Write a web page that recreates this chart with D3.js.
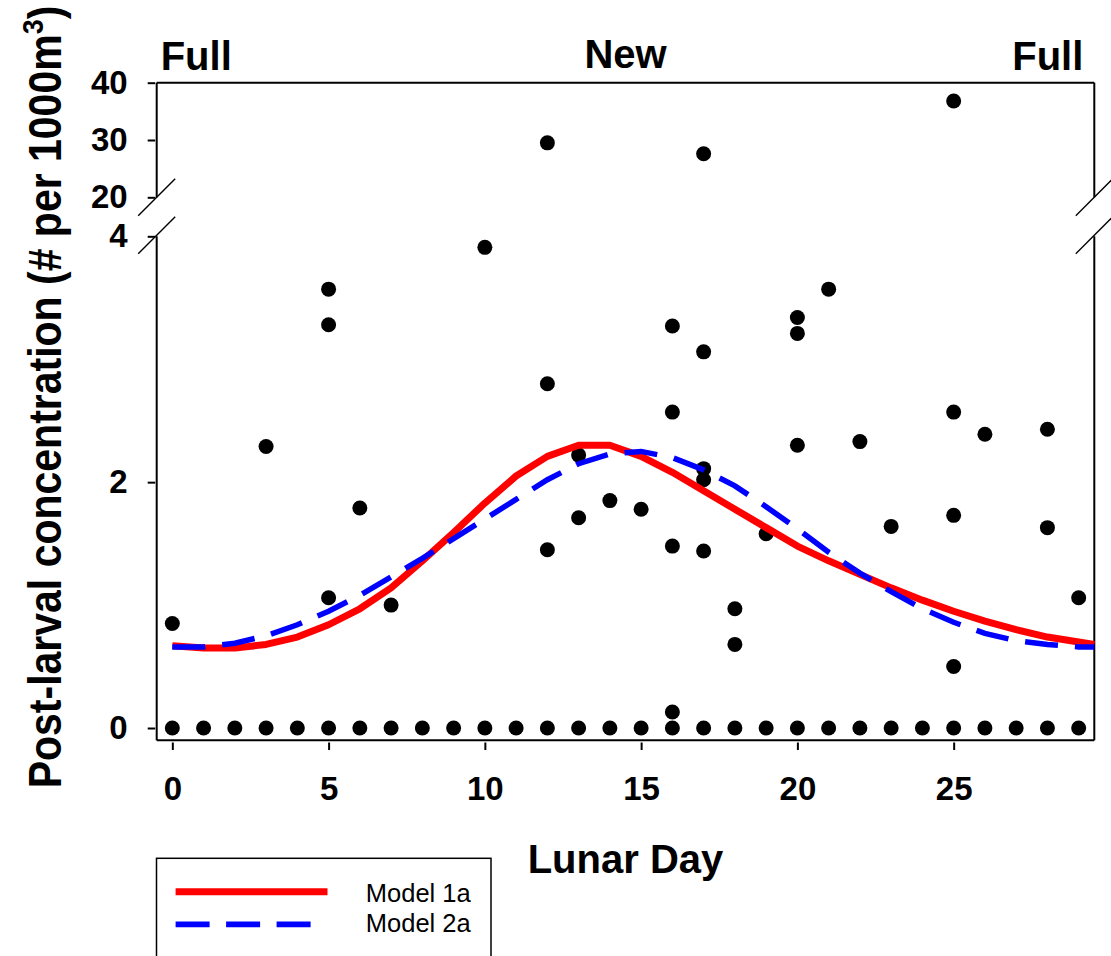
<!DOCTYPE html>
<html>
<head>
<meta charset="utf-8">
<script src="https://cdn.jsdelivr.net/npm/d3@7"></script>
<style>
  html, body { margin: 0; padding: 0; background: #fff; }
  svg { display: block; font-family: "Liberation Sans", Arial, Helvetica, sans-serif; }
</style>
</head>
<body>
<svg id="chart" width="1111" height="956"></svg>
<script>
// Nights sampled with no post-larvae caught (one zero per lunar day)
const zeroDays = [0,1,2,3,4,5,6,7,8,9,10,11,12,13,14,15,16,17,18,19,20,21,22,23,24,25,26,27,28,29];

// Non-zero catches: lunar day and concentration (# per 1000 m^3)
const sampleDay  = [0, 3, 5, 5, 5, 6, 7, 10, 12, 12, 12, 13, 13, 14, 15,
                    16, 16, 16, 16, 17, 17, 17, 17, 17, 18, 18, 19,
                    20, 20, 20, 21, 22, 23, 25, 25, 25, 25, 26, 28, 28, 29];
const sampleConc = [0.85, 2.29, 3.57, 3.28, 1.06, 1.79, 1.00, 3.91, 29.5, 2.80, 1.45, 2.22, 1.71, 1.85, 1.78,
                    3.27, 2.57, 1.48, 0.13, 27.6, 3.06, 2.11, 2.02, 1.44, 0.97, 0.68, 1.58,
                    3.34, 3.21, 2.30, 3.57, 2.33, 1.64, 36.8, 2.57, 1.73, 0.50, 2.39, 2.43, 1.63, 1.06];

// Fitted model curves over the lunar cycle
const curveDays = [0,1,2,3,4,5,6,7,8,9,10,11,12,13,14,15,16,17,18,19,20,21,22,23,24,25,26,27,28,29,29.5];
const model1a = [0.67,0.65,0.65,0.68,0.74,0.84,0.97,1.14,1.36,1.59,1.83,2.05,2.21,2.30,2.30,2.21,
                 2.08,1.93,1.78,1.63,1.48,1.36,1.25,1.14,1.04,0.95,0.87,0.80,0.74,0.70,0.68];
const model2a = [0.66,0.66,0.69,0.75,0.84,0.95,1.08,1.23,1.38,1.54,1.70,1.86,2.02,2.15,2.23,2.25,
                 2.20,2.10,1.97,1.80,1.62,1.43,1.26,1.11,0.97,0.86,0.77,0.71,0.68,0.66,0.66];

const xTicks = [0, 5, 10, 15, 20, 25];
const yTicksLow = [0, 2, 4];
const yTicksHigh = [20, 30, 40];
const phaseLabels = ["Full", "New", "Full"];
const legendLabels = ["Model 1a", "Model 2a"];

// ---- layout ----
const L = 156.7, R = 1094.3, T = 82.7, B = 740.3;
const lowTop = 236.3, highBottom = 197.3;

const svg = d3.select("#chart");

const x = d3.scaleLinear().domain([-0.5, 29.5]).range([L, R]);
const yLow = d3.scaleLinear().domain([-0.1, 4]).range([B, lowTop]);
const yHigh = d3.scaleLinear().domain([20, 40]).range([highBottom, T]);
const y = v => (v > 4 ? yHigh(v) : yLow(v));

// ---- frame with broken y axis ----
const frame = svg.append("g").attr("stroke", "#000").attr("stroke-width", 2).attr("fill", "none");
[[L, T, R, T], [L, B, R, B],
 [L, T, L, highBottom], [L, lowTop, L, B],
 [R, T, R, highBottom], [R, lowTop, R, B]].forEach(s => {
  frame.append("line").attr("x1", s[0]).attr("y1", s[1]).attr("x2", s[2]).attr("y2", s[3]);
});

// break marks on both vertical axes
const brk = svg.append("g").attr("stroke", "#000").attr("stroke-width", 1.4);
[L, R].forEach(ax => {
  [highBottom, lowTop - 1].forEach(cy => {
    brk.append("line")
      .attr("x1", ax - 18.5).attr("y1", cy + 18.5)
      .attr("x2", ax + 18.5).attr("y2", cy - 18.5);
  });
});

// ---- axes ----
function styleAxis(g) {
  g.select(".domain").remove();
  g.selectAll(".tick line").attr("stroke", "#000").attr("stroke-width", 2);
  g.selectAll(".tick text")
    .attr("fill", "#000")
    .style("font-size", "33px")
    .style("font-weight", "bold");
}

svg.append("g")
  .attr("transform", `translate(${L - 1.5},0)`)
  .call(d3.axisLeft(yHigh).tickValues(yTicksHigh).tickSize(7.5).tickPadding(20).tickFormat(d3.format("d")))
  .call(styleAxis);

svg.append("g")
  .attr("transform", `translate(${L - 1.5},0)`)
  .call(d3.axisLeft(yLow).tickValues(yTicksLow).tickSize(7.5).tickPadding(20).tickFormat(d3.format("d")))
  .call(styleAxis);

svg.append("g")
  .attr("transform", `translate(0,${B + 2.2})`)
  .call(d3.axisBottom(x).tickValues(xTicks).tickSize(7.5).tickPadding(27).tickFormat(d3.format("d")))
  .call(styleAxis);

// ---- observations ----
const dots = svg.append("g").attr("fill", "#000");
dots.selectAll("circle.zero")
  .data(zeroDays)
  .join("circle")
  .attr("class", "zero")
  .attr("cx", d => x(d))
  .attr("cy", yLow(0))
  .attr("r", 7.5);

dots.selectAll("circle.catch")
  .data(sampleDay.map((d, i) => [d, sampleConc[i]]))
  .join("circle")
  .attr("class", "catch")
  .attr("cx", d => x(d[0]))
  .attr("cy", d => y(d[1]))
  .attr("r", 7.5);

// ---- model curves ----
const line = d3.line().x(d => x(d[0])).y(d => yLow(d[1]));

svg.append("path")
  .datum(curveDays.map((d, i) => [d, model1a[i]]))
  .attr("d", line)
  .attr("fill", "none")
  .attr("stroke", "#ff0000")
  .attr("stroke-width", 7)
  .attr("stroke-linejoin", "round");

svg.append("path")
  .datum(curveDays.map((d, i) => [d, model2a[i]]))
  .attr("d", line)
  .attr("fill", "none")
  .attr("stroke", "#0000ff")
  .attr("stroke-width", 5.5)
  .attr("stroke-dasharray", "33,17");

// ---- moon phase labels ----
const phase = svg.append("g")
  .style("font-size", "40px")
  .style("font-weight", "bold")
  .attr("fill", "#000");
phase.append("text").attr("x", L + 4).attr("y", 70).attr("text-anchor", "start").text(phaseLabels[0]);
phase.append("text").attr("x", (L + R) / 2).attr("y", 68).attr("text-anchor", "middle").text(phaseLabels[1]);
phase.append("text").attr("x", R - 11).attr("y", 70).attr("text-anchor", "end").text(phaseLabels[2]);

// ---- axis titles ----
svg.append("text")
  .attr("x", (L + R) / 2)
  .attr("y", 872.5)
  .attr("text-anchor", "middle")
  .style("font-size", "40px")
  .style("font-weight", "bold")
  .text("Lunar Day");

const yTitle = svg.append("text")
  .attr("transform", "translate(61,397) scale(1.12,1) rotate(-90)")
  .attr("text-anchor", "middle")
  .style("font-size", "41px")
  .style("font-weight", "bold");
yTitle.append("tspan").text("Post-larval concentration (# per 1000m");
yTitle.append("tspan").attr("dy", -16).style("font-size", "27px").text("3");
yTitle.append("tspan").attr("dy", 16).text(")");

// ---- legend ----
const lg = svg.append("g");
lg.append("rect")
  .attr("x", 156.5).attr("y", 858.3)
  .attr("width", 334.5).attr("height", 130)
  .attr("fill", "none").attr("stroke", "#000").attr("stroke-width", 1.5);
lg.append("line")
  .attr("x1", 175.6).attr("x2", 327.5).attr("y1", 891.7).attr("y2", 891.7)
  .attr("stroke", "#ff0000").attr("stroke-width", 7);
lg.append("line")
  .attr("x1", 175.6).attr("x2", 311).attr("y1", 924.3).attr("y2", 924.3)
  .attr("stroke", "#0000ff").attr("stroke-width", 5.7).attr("stroke-dasharray", "34,16.5");
lg.selectAll("text")
  .data(legendLabels)
  .join("text")
  .attr("x", 365.8)
  .attr("y", (d, i) => 901.7 + i * 30)
  .style("font-size", "25.5px")
  .text(d => d);
</script>
</body>
</html>
